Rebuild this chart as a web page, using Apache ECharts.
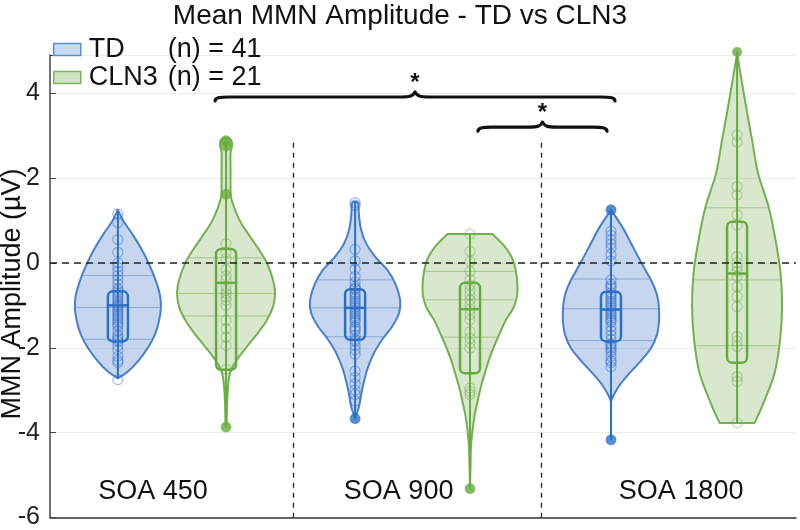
<!DOCTYPE html>
<html><head><meta charset="utf-8">
<script src="https://cdn.jsdelivr.net/npm/echarts@6/dist/echarts.min.js"></script>
<style>html,body{margin:0;padding:0;background:#fff}#c{width:800px;height:530px}</style>
</head><body><div id="c"></div>
<script>
// ---------------- data ----------------
const groups = ['SOA 450', 'SOA 900', 'SOA 1800'];
const tdPos = [0.773, 1.727, 2.756];
const clnPos = [1.208, 2.189, 3.263];
const yTicks = [-6, -4, -2, 0, 2, 4];

// individual subject values (µV)
const td450 = [1.15, 0.95, 0.55, 0.25, 0.0, -0.1, -0.2, -0.3, -0.4, -0.5, -0.6, -0.65, -0.7, -0.75, -0.8, -0.85, -0.9, -0.95, -1.0, -1.0, -1.05, -1.1, -1.15, -1.2, -1.25, -1.3, -1.35, -1.4, -1.45, -1.5, -1.6, -1.7, -1.75, -1.8, -1.85, -1.95, -2.05, -2.2, -2.3, -2.35, -2.75];
const td900 = [1.42, 1.36, 0.32, 0.05, -0.15, -0.32, -0.45, -0.55, -0.62, -0.7, -0.75, -0.8, -0.85, -0.9, -0.95, -1.0, -1.05, -1.1, -1.15, -1.2, -1.25, -1.3, -1.35, -1.4, -1.5, -1.55, -1.6, -1.7, -1.8, -1.85, -1.95, -2.05, -2.15, -2.55, -2.7, -2.85, -3.0, -3.1, -3.25, -3.67, -0.6];
const td1800 = [1.25, 0.75, 0.65, 0.55, 0.45, 0.35, 0.2, 0.05, -0.4, -0.5, -0.55, -0.6, -0.7, -0.75, -0.8, -0.85, -0.9, -0.95, -1.0, -1.05, -1.1, -1.15, -1.2, -1.25, -1.3, -1.35, -1.4, -1.5, -1.6, -1.7, -1.8, -1.9, -1.95, -2.0, -2.05, -2.1, -2.2, -2.3, -2.35, -2.45, -4.17];
const cln450 = [2.88, 2.75, 1.62, 0.45, 0.25, 0.1, -0.15, -0.4, -0.55, -0.65, -0.72, -0.8, -0.88, -1.0, -1.35, -1.55, -1.75, -1.95, -0.3, -2.5, -3.87];
const cln900 = [0.68, 0.27, 0.03, -0.2, -0.4, -0.52, -0.64, -0.75, -0.87, -0.99, -1.1, -1.22, -1.34, -1.62, -1.77, -1.89, -2.01, -2.95, -3.03, -3.1, -5.32];
const cln1800 = [4.97, 3.01, 2.85, 1.8, 1.6, 1.13, 0.89, 0.15, 0.0, -0.09, -0.2, -0.32, -0.56, -0.79, -1.03, -1.73, -1.85, -1.97, -2.68, -2.79, -3.77];

// violin outlines: [value, relative density]
const td450Shape = [[1.25,0],[0.97,0.12],[0.66,0.30],[0.35,0.46],[0.03,0.60],[-0.36,0.74],[-0.75,0.84],[-1.06,0.86],[-1.38,0.82],[-1.69,0.74],[-2.0,0.60],[-2.32,0.40],[-2.56,0.20],[-2.72,0]];
const td900Shape = [[1.44,0],[1.40,0.06],[1.09,0.08],[0.78,0.12],[0.46,0.22],[0.15,0.40],[-0.16,0.64],[-0.48,0.80],[-0.87,0.90],[-1.18,0.88],[-1.50,0.74],[-1.81,0.54],[-2.12,0.38],[-2.52,0.24],[-2.99,0.14],[-3.38,0.08],[-3.67,0]];
const td1800Shape = [[1.25,0],[0.82,0.24],[0.42,0.42],[0.02,0.60],[-0.45,0.82],[-0.75,0.92],[-1.06,0.96],[-1.38,0.96],[-1.69,0.92],[-2.01,0.80],[-2.33,0.58],[-2.64,0.34],[-2.87,0.18],[-3.1,0.06],[-3.26,0]];
const cln450Shape = [[2.95,0],[2.9,0.10],[2.75,0.12],[2.6,0.09],[2.2,0.09],[1.8,0.09],[1.55,0.10],[1.25,0.18],[0.94,0.30],[0.62,0.48],[0.31,0.66],[-0.01,0.82],[-0.4,0.94],[-0.71,0.98],[-1.03,0.94],[-1.34,0.82],[-1.65,0.64],[-1.97,0.42],[-2.28,0.22],[-2.6,0.08],[-3.07,0.03],[-3.76,0.01],[-3.87,0]];
const cln900Shape = [[0.68,0.45],[0.38,0.70],[0.0,0.88],[-0.64,0.95],[-1.03,0.88],[-1.34,0.72],[-1.65,0.60],[-1.97,0.48],[-2.28,0.38],[-2.59,0.30],[-2.91,0.22],[-3.22,0.16],[-3.54,0.10],[-3.85,0.06],[-4.32,0.02],[-4.79,0.01],[-5.32,0]];
const cln1800Shape = [[4.93,0],[3.68,0.18],[2.9,0.30],[2.11,0.42],[1.33,0.63],[0.54,0.77],[-0.24,0.87],[-1.03,0.90],[-1.81,0.86],[-2.6,0.75],[-3.38,0.50],[-3.77,0.35]];

// box: [upper quartile, median, lower quartile]
const tdBox = [[-0.67, -1.0, -1.85], [-0.62, -1.06, -1.81], [-0.68, -1.1, -1.85]];
const clnBox = [[0.33, -0.47, -2.52], [-0.47, -1.09, -2.6], [0.97, -0.25, -2.35]];
// whiskers: [high, low]
const tdWhisker = [[1.2, -2.72], [1.44, -3.67], [1.25, -4.17]];
const clnWhisker = [[2.88, -3.87], [0.68, -5.32], [4.97, -3.77]];
// horizontal reference lines across each violin
const tdLines = [[-0.3, -1.05, -1.8], [-0.4, -1.06, -1.74], [-0.38, -1.08, -1.83]];
const clnLines = [[0.12, -0.72, -1.25], [-0.2, -0.87, -1.75], [1.3, -0.4, -1.95]];
// filled markers (whisker ends / outliers)
const tdDots = [[], [-3.67], [1.25, -4.17]];
const clnDots = [[2.88, 2.76, 1.62, -3.87], [-5.32], [4.97]];

// significance braces: [xStart, xEnd, y]
const braces = [[1.164, 2.772, 3.91], [2.221, 2.740, 3.2]];
const separators = [1.477, 2.474];
const separatorTop = 2.83;
const groupLabelX = [0.914, 1.902, 3.038];
const groupLabelY = -5.4;

// ---------------- chart ----------------
const FONT = '"Liberation Sans", Arial, Helvetica, sans-serif';
const tdShapes = [td450Shape, td900Shape, td1800Shape];
const clnShapes = [cln450Shape, cln900Shape, cln1800Shape];
const tdPts = [td450, td900, td1800];
const clnPts = [cln450, cln900, cln1800];

function interp(shape, v) {
  for (let k = 0; k < shape.length - 1; k++) {
    const a = shape[k], b = shape[k + 1];
    if (v <= a[0] && v >= b[0]) {
      const t = (a[0] - v) / (a[0] - b[0] || 1);
      return a[1] + t * (b[1] - a[1]);
    }
  }
  return 0;
}

// Catmull-Rom -> cubic bezier segments through pts (starting point assumed current)
function smoothSegs(pts) {
  let s = '';
  const n = pts.length;
  for (let i = 0; i < n - 1; i++) {
    const p0 = pts[i - 1] || pts[i], p1 = pts[i], p2 = pts[i + 1], p3 = pts[i + 2] || pts[i + 1];
    const c1x = p1[0] + (p2[0] - p0[0]) / 6, c1y = p1[1] + (p2[1] - p0[1]) / 6;
    const c2x = p2[0] - (p3[0] - p1[0]) / 6, c2y = p2[1] - (p3[1] - p1[1]) / 6;
    s += ` C${c1x},${c1y} ${c2x},${c2y} ${p2[0]},${p2[1]}`;
  }
  return s;
}

const W = 50;     // px per unit of relative density
const BOXW = 10;  // half box width px

function violinRenderer(shapes, boxes, whiskers, lines, pos, col) {
  return function (params, api) {
    const i = params.dataIndex;
    const shape = shapes[i];
    const cx = api.coord([pos[i], 0])[0];
    const Y = v => api.coord([pos[i], v])[1];
    const right = [], left = [];
    shape.forEach(([v, d]) => { const y = Y(v); right.push([cx + d * W, y]); left.push([cx - d * W, y]); });
    left.reverse();
    let path = `M${right[0][0]},${right[0][1]}` + smoothSegs(right) +
      ` L${left[0][0]},${left[0][1]}` + smoothSegs(left) + ' Z';
    const ch = [];
    ch.push({ type: 'path', shape: { pathData: path }, style: { fill: col.fill, stroke: col.edge, lineWidth: 2, lineJoin: 'round' } });
    lines[i].forEach(v => {
      const d = interp(shape, v), y = Y(v);
      ch.push({ type: 'line', shape: { x1: cx - d * W + 1, y1: y, x2: cx + d * W - 1, y2: y }, style: { stroke: col.inner, lineWidth: 1 } });
    });
    ch.push({ type: 'line', shape: { x1: cx, y1: Y(whiskers[i][0]), x2: cx, y2: Y(whiskers[i][1]) }, style: { stroke: col.box, lineWidth: 2 } });
    const [q3, med, q1] = boxes[i];
    const yt = Y(q3), yb = Y(q1), ym = Y(med);
    ch.push({ type: 'rect', shape: { x: cx - BOXW, y: yt, width: 2 * BOXW, height: yb - yt, r: 5 }, style: { fill: 'none', stroke: col.box, lineWidth: 2.5 } });
    ch.push({ type: 'line', shape: { x1: cx - BOXW, y1: ym, x2: cx + BOXW, y2: ym }, style: { stroke: col.box, lineWidth: 2.5 } });
    return { type: 'group', children: ch };
  };
}

const tdCol = { fill: 'rgba(100,140,210,0.36)', edge: '#4a80c6', inner: 'rgba(60,110,190,0.45)', box: '#2c70c2' };
const clnCol = { fill: 'rgba(120,170,80,0.28)', edge: '#74b050', inner: 'rgba(100,160,60,0.45)', box: '#66aa40' };

const pointsData = (pts, pos) => pts.flatMap((arr, i) => arr.map(v => [pos[i], v]));

const chart = echarts.init(document.getElementById('c'), null, { renderer: 'canvas' });
chart.setOption({
  animation: false,
  backgroundColor: '#fff',
  title: {
    text: 'Mean MMN Amplitude - TD vs CLN3', left: 'center', top: -3,
    textStyle: { fontFamily: FONT, fontSize: 28, fontWeight: 'normal', color: '#111' }
  },
  legend: {
    data: [
      { name: 'TD', itemStyle: { color: '#c8dcf4', borderColor: '#5b8fd2', borderWidth: 1.5 } },
      { name: 'CLN3', itemStyle: { color: '#d0e3c3', borderColor: '#7db55c', borderWidth: 1.5 } }
    ],
    orient: 'vertical', left: 48, top: 31, itemWidth: 27, itemHeight: 12, itemGap: 1, icon: 'rect',
    selectedMode: false,
    formatter: name => name === 'TD' ? `{a|TD}{b|(n) = ${td450.length}}` : `{a|CLN3}{b|(n) = ${cln450.length}}`,
    textStyle: {
      rich: {
        a: { fontFamily: FONT, fontSize: 27, color: '#111', width: 79, padding: [0, 0, 0, 3], lineHeight: 27 },
        b: { fontFamily: FONT, fontSize: 27, color: '#111', lineHeight: 27 }
      }
    }
  },
  grid: { left: 50, right: 4, top: 55, bottom: 12 },
  xAxis: {
    type: 'value', min: 0.5, max: 3.5,
    axisLine: { show: true, onZero: false, lineStyle: { color: '#333', width: 1.5 } },
    axisTick: { show: false }, axisLabel: { show: false }, splitLine: { show: false }
  },
  yAxis: {
    type: 'value', min: yTicks[0], max: 4.9, interval: 2,
    axisLine: { show: true, lineStyle: { color: '#444', width: 1.5 } },
    axisTick: { show: true, inside: true, length: 6, lineStyle: { color: '#444' } },
    axisLabel: { fontFamily: FONT, fontSize: 25, color: '#222', margin: 10, formatter: v => yTicks.includes(v) ? String(v) : '' },
    splitLine: { show: true, lineStyle: { color: '#ececec', width: 1 } }
  },
  graphic: [{
    type: 'text', x: 13, y: 294, rotation: Math.PI / 2, z: 0,
    style: { text: 'MMN Amplitude (µV)', font: '27px ' + FONT, fill: '#111', align: 'center', verticalAlign: 'middle' }
  }],
  series: [
    {
      name: 'TD', type: 'custom', clip: false, z: 2,
      renderItem: violinRenderer(tdShapes, tdBox, tdWhisker, tdLines, tdPos, tdCol),
      data: tdPos.map((p, i) => [p, tdBox[i][1]]), encode: { x: 0, y: 1 }
    },
    {
      name: 'CLN3', type: 'custom', clip: false, z: 2,
      renderItem: violinRenderer(clnShapes, clnBox, clnWhisker, clnLines, clnPos, clnCol),
      data: clnPos.map((p, i) => [p, clnBox[i][1]]), encode: { x: 0, y: 1 }
    },
    {
      name: 'TD points', type: 'scatter', z: 3, symbol: 'circle', symbolSize: 10, silent: true,
      itemStyle: { color: 'rgba(0,0,0,0)', borderColor: 'rgba(50,110,200,0.6)', borderWidth: 1.2 },
      data: pointsData(tdPts, tdPos)
    },
    {
      name: 'CLN3 points', type: 'scatter', z: 3, symbol: 'circle', symbolSize: 10, silent: true,
      itemStyle: { color: 'rgba(0,0,0,0)', borderColor: 'rgba(110,170,80,0.55)', borderWidth: 1.2 },
      data: pointsData(clnPts, clnPos)
    },
    {
      name: 'TD dots', type: 'scatter', z: 4, symbol: 'circle', symbolSize: 10, silent: true, clip: false,
      itemStyle: { color: '#2a72c6' }, data: pointsData(tdDots, tdPos)
    },
    {
      name: 'CLN3 dots', type: 'scatter', z: 4, symbol: 'circle', symbolSize: 10, silent: true, clip: false,
      itemStyle: { color: '#66ad3f' }, data: pointsData(clnDots, clnPos)
    },
    {
      name: 'braces', type: 'custom', clip: false, z: 5, silent: true,
      data: braces, encode: { x: [0, 1], y: 2 },
      renderItem: function (params, api) {
        const b = braces[params.dataIndex];
        const p1 = api.coord([b[0], b[2]]), p2 = api.coord([b[1], b[2]]);
        const x1 = p1[0], x2 = p2[0], y = p1[1], xm = (x1 + x2) / 2;
        const path = `M${x1},${y + 4} C${x1},${y + 1} ${x1 + 4},${y} ${x1 + 14},${y} L${xm - 14},${y} ` +
          `C${xm - 5},${y} ${xm - 2},${y - 1} ${xm},${y - 5} C${xm + 2},${y - 1} ${xm + 5},${y} ${xm + 14},${y} ` +
          `L${x2 - 14},${y} C${x2 - 4},${y} ${x2},${y + 1} ${x2},${y + 4}`;
        return {
          type: 'group', children: [
            { type: 'path', shape: { pathData: path }, style: { fill: 'none', stroke: '#111', lineWidth: 3.2, lineCap: 'round', lineJoin: 'round' } },
            { type: 'text', x: xm, y: y - 14, style: { text: '*', font: 'bold 24px ' + FONT, fill: '#111', align: 'center', verticalAlign: 'middle' } }
          ]
        };
      },
      markLine: {
        silent: true, symbol: 'none', label: { show: false }, z: 6,
        data: [
          { yAxis: 0, lineStyle: { color: '#222', type: [7, 5], width: 1.5 } },
          ...separators.map(x => [
            { coord: [x, separatorTop], lineStyle: { color: '#222', type: [5, 5], width: 1.3 } },
            { coord: [x, yTicks[0]] }
          ])
        ]
      }
    },
    {
      name: 'labels', type: 'custom', clip: false, z: 5, silent: true,
      data: groupLabelX.map(x => [x, groupLabelY]), encode: { x: 0, y: 1 },
      renderItem: function (params, api) {
        const p = api.coord([api.value(0), api.value(1)]);
        return { type: 'text', x: p[0], y: p[1], style: { text: groups[params.dataIndex], font: '27px ' + FONT, fill: '#111', align: 'center', verticalAlign: 'middle' } };
      }
    }
  ]
});
</script></body></html>
